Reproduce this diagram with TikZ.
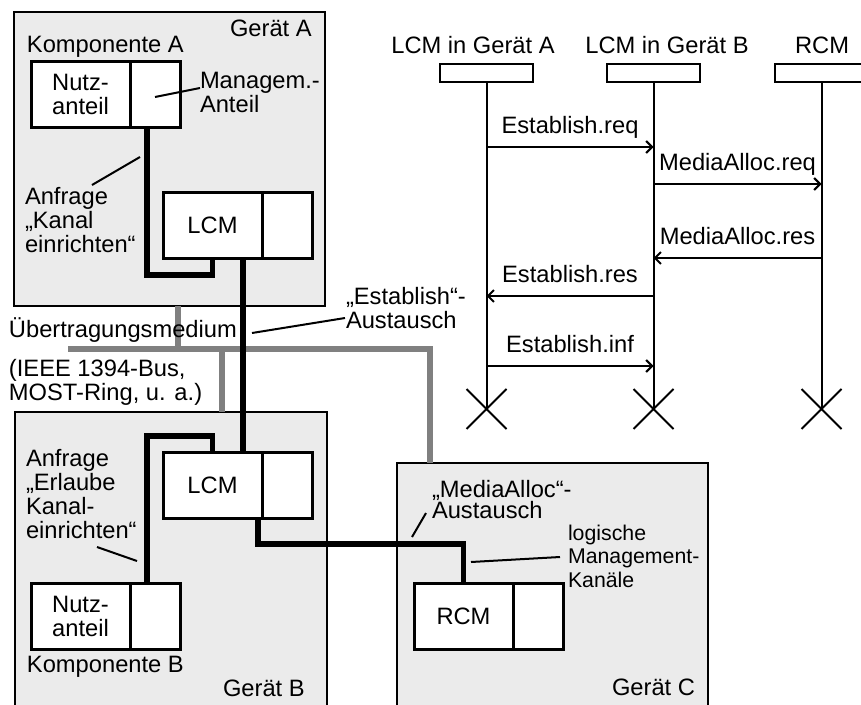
\documentclass[tikz,border=0pt]{standalone}
\usepackage{fontspec}
\setmainfont{Liberation Sans}
\usetikzlibrary{calc,arrows.meta}
\definecolor{boxfill}{RGB}{235,235,235}
\definecolor{busgray}{RGB}{128,128,128}
\begin{document}
\begin{tikzpicture}[x=1pt,y=-1pt,
  every node/.style={font=\fontsize{23.7pt}{24pt}\selectfont, inner sep=0pt, outer sep=0pt},
  geraet/.style={draw, line width=2.6pt, fill=boxfill, anchor=north west},
  partmain/.style={draw, line width=3pt, fill=white, minimum width=99pt, minimum height=66pt, anchor=north west, align=center},
  partside/.style={draw, line width=3pt, fill=white, minimum width=50pt, minimum height=66pt, anchor=north west},
  wire/.style={line width=5.5pt, line join=miter},
  bus/.style={line width=6.5pt, draw=busgray, line join=miter},
  leader/.style={line width=2pt},
  txt/.style={anchor=base west, align=left},
  head/.style={draw, line width=2pt, minimum width=93pt, minimum height=18pt, anchor=north west},
  life/.style={line width=2pt},
  msg/.style={line width=2pt, -{Straight Barb[length=6pt,width=12pt]}},
  msglabel/.style={anchor=base, yshift=14pt}
]
\useasboundingbox (0,0) rectangle (861,704);
\clip (0,0) rectangle (861,704);

% bus (transmission medium)
\coordinate (busL) at (68,349);
\coordinate (busR) at (430,349);

% devices
\node[geraet, minimum width=311pt, minimum height=294pt] (gA) at (14,12) {};
\node[geraet, minimum width=312pt, minimum height=300pt] (gB) at (15,412) {};
\node[geraet, minimum width=311pt, minimum height=250pt] (gC) at (397,463) {};

\draw[bus] (busL) -- (busR) -- (busR |- gC.north);
\draw[bus] ($(gA.south west)+(164,0)$) coordinate (ba) -- (ba |- busL);
\draw[bus] ($(gB.north west)+(207,0)$) coordinate (bb) -- (bb |- busL);

% component parts
\node[partmain] (nutzA) at (31,61) {Nutz-\\anteil};
\node[partside] (mgmtA) at (130,61) {};
\node[partmain] (lcmA) at (163,192) {LCM};
\node[partside] (lcmAs) at (262,192) {};
\node[partmain] (lcmB) at (163,452) {LCM};
\node[partside] (lcmBs) at (262,452) {};
\node[partmain] (nutzB) at (31,583) {Nutz-\\anteil};
\node[partside] (mgmtB) at (130,583) {};
\node[partmain] (rcm) at (414,583) {RCM};
\node[partside] (rcms) at (513,583) {};

% logical management channels
\draw[wire] ($(mgmtA.south west)+(17,0)$) |- ($(lcmA.south)+(0,17)$) -- (lcmA.south);
\draw[wire] ($(lcmA.south west)+(80,0)$) -- ($(lcmB.north west)+(80,0)$);
\draw[wire] (lcmB.north) -- ++(0,-16) -| ($(mgmtB.north west)+(17,0)$);
\draw[wire] ($(lcmB.south east)+(-4,0)$) |- ($(rcm.north)+(0,-39)$) -- (rcm.north);

% texts (base = baseline of the last line)
\node[txt] (tGA) at (230,36) {Gerät A};
\node[txt] (tKA) at (27,52) {Komponente A};
\node[txt] (tMA) at (200,112) {Managem.-\\Anteil};
\node[txt] (tAnfA) at (25,252) {Anfrage\\„Kanal\\einrichten“};
\node[txt] (tUe) at (9,337) {Übertragungsmedium};
\node[txt] (tEA) at (346,328) {„Establish“-\\Austausch};
\node[txt] (tIEEE) at (9,400) {(IEEE 1394-Bus,\\MOST-Ring, u. a.)};
\node[txt] (tAnfB) at (26,538) {Anfrage\\„Erlaube\\Kanal-\\einrichten“};
\node[txt] (tKB) at (27,672) {Komponente B};
\node[txt] (tGB) at (223,696) {Gerät B};
\node[txt, font=\fontsize{23.7pt}{21pt}\selectfont] (tMX) at (432,518) {„MediaAlloc“-\\Austausch};
\node[txt, font=\fontsize{21.3pt}{23.5pt}\selectfont] (tLog) at (568,587) {logische\\Management-\\Kanäle};
\node[txt] (tGC) at (612,695) {Gerät C};

% leader lines
\coordinate (l1a) at (155,97);  \coordinate (l1b) at (200,88);
\coordinate (l2a) at (92,185);  \coordinate (l2b) at (140,157);
\coordinate (l3a) at (252,333); \coordinate (l3b) at (345,318);
\coordinate (l4a) at (97,547);  \coordinate (l4b) at (137,561);
\coordinate (l5a) at (412,537); \coordinate (l5b) at (426,513);
\coordinate (l6a) at (471,562); \coordinate (l6b) at (560,557);
\draw[leader] (l1a) -- (l1b);
\draw[leader] (l2a) -- (l2b);
\draw[leader] (l3a) -- (l3b);
\draw[leader] (l4a) -- (l4b);
\draw[leader] (l5a) -- (l5b);
\draw[leader] (l6a) -- (l6b);

% sequence diagram
\node[anchor=base] (tHA) at (473,53) {LCM in Gerät A};
\node[anchor=base] (tHB) at (667,53) {LCM in Gerät B};
\node[anchor=base] (tHR) at (822,53) {RCM};
\node[head] (hA) at (440,64) {};
\node[head] (hB) at (607,64) {};
\node[head] (hR) at (775,64) {};

\draw[life] (hA.south) -- ++(0,327) coordinate (xA);
\draw[life] (hB.south) -- ++(0,327) coordinate (xB);
\draw[life] (hR.south) -- ++(0,327) coordinate (xR);
\foreach \c in {xA,xB,xR}{
  \draw[life] ($(\c)+(-20,-20)$) -- ($(\c)+(20,20)$) ($(\c)+(-20,20)$) -- ($(\c)+(20,-20)$);
}

\coordinate (y1) at (0,147);
\coordinate (y2) at (0,184);
\coordinate (y3) at (0,258);
\coordinate (y4) at (0,296);
\coordinate (y5) at (0,366);
\draw[msg] (hA.south |- y1) -- node[msglabel] {Establish.req} (hB.south |- y1);
\draw[msg] (hB.south |- y2) -- node[msglabel] {MediaAlloc.req} (hR.south |- y2);
\draw[msg] (hR.south |- y3) -- node[msglabel] {MediaAlloc.res} (hB.south |- y3);
\draw[msg] (hB.south |- y4) -- node[msglabel] {Establish.res} (hA.south |- y4);
\draw[msg] (hA.south |- y5) -- node[msglabel] {Establish.inf} (hB.south |- y5);
\end{tikzpicture}
\end{document}
